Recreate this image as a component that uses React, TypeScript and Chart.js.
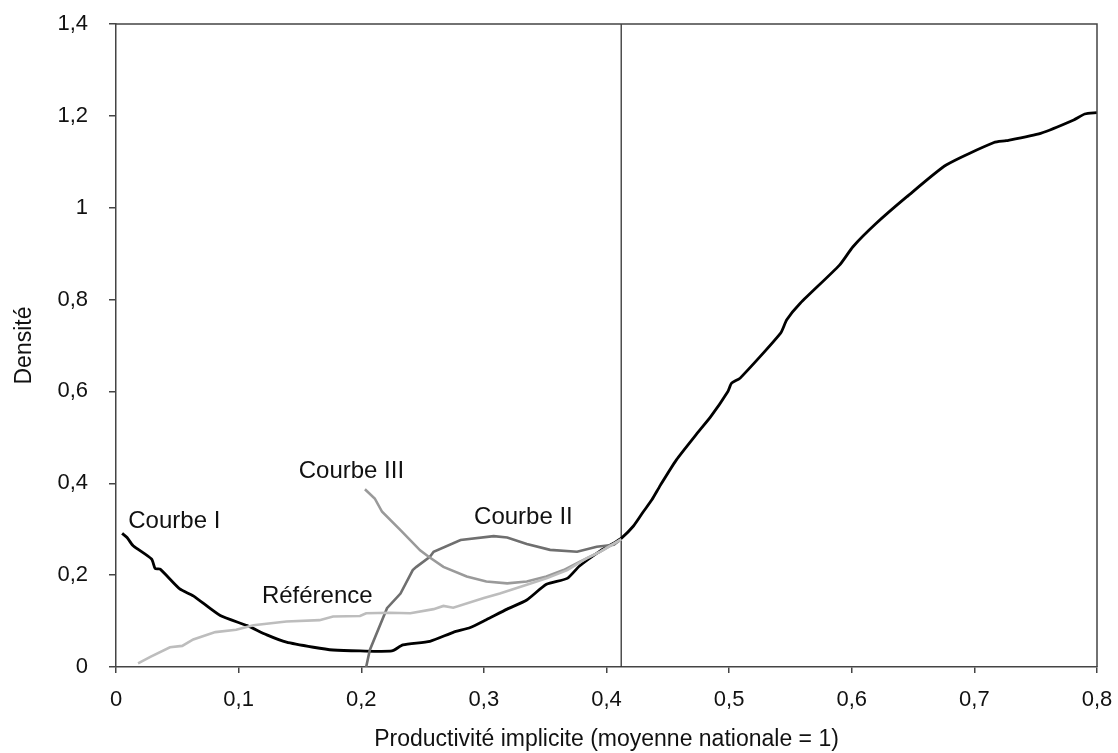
import React, { useEffect, useRef } from "react";
import { Chart, registerables } from "chart.js";

Chart.register(...registerables);

// ---- Data ----
const courbeIX = [0.005, 0.009, 0.014, 0.029, 0.032, 0.036, 0.052, 0.063, 0.085, 0.107, 0.123, 0.139, 0.161, 0.177, 0.199, 0.225, 0.234, 0.256, 0.275, 0.289, 0.302, 0.319, 0.335, 0.351, 0.368, 0.378, 0.395, 0.406, 0.412, 0.422, 0.430, 0.437, 0.444, 0.457, 0.474, 0.485, 0.499, 0.502, 0.509, 0.542, 0.547, 0.558, 0.590, 0.601, 0.620, 0.645, 0.677, 0.716, 0.726, 0.754, 0.781, 0.790, 0.800];
const courbeIY = [0.291, 0.282, 0.264, 0.235, 0.214, 0.213, 0.170, 0.155, 0.112, 0.090, 0.070, 0.054, 0.043, 0.037, 0.035, 0.035, 0.048, 0.056, 0.0755, 0.086, 0.103, 0.126, 0.146, 0.180, 0.193, 0.220, 0.253, 0.270, 0.280, 0.307, 0.338, 0.364, 0.396, 0.451, 0.509, 0.545, 0.600, 0.618, 0.629, 0.727, 0.756, 0.792, 0.875, 0.915, 0.966, 1.024, 1.093, 1.142, 1.146, 1.162, 1.191, 1.204, 1.207];

const courbeIIX = [0.204, 0.207, 0.221, 0.232, 0.242, 0.245, 0.256, 0.259, 0.281, 0.308, 0.319, 0.335, 0.354, 0.376, 0.392, 0.406, 0.412];
const courbeIIY = [0, 0.037, 0.128, 0.160, 0.211, 0.218, 0.240, 0.251, 0.2765, 0.285, 0.282, 0.268, 0.255, 0.251, 0.262, 0.266, 0.278];

const courbeIIIX = [0.203, 0.211, 0.217, 0.232, 0.248, 0.255, 0.267, 0.286, 0.302, 0.319, 0.335, 0.351, 0.365, 0.378, 0.395, 0.412];
const courbeIIIY = [0.387, 0.367, 0.338, 0.298, 0.254, 0.240, 0.218, 0.197, 0.186, 0.182, 0.186, 0.197, 0.211, 0.229, 0.251, 0.278];

const referenceX = [0.018, 0.028, 0.044, 0.054, 0.063, 0.081, 0.098, 0.112, 0.139, 0.166, 0.177, 0.199, 0.204, 0.223, 0.240, 0.259, 0.267, 0.275, 0.300, 0.313, 0.335, 0.351, 0.368, 0.384, 0.395, 0.412];
const referenceY = [0.008, 0.022, 0.043, 0.046, 0.060, 0.076, 0.081, 0.091, 0.099, 0.102, 0.110, 0.111, 0.117, 0.118, 0.117, 0.126, 0.133, 0.129, 0.150, 0.160, 0.179, 0.193, 0.211, 0.237, 0.251, 0.278];

const thresholdX = [0.412, 0.412];
const thresholdY = [0, 1.4];

const labelTexts = ["Courbe I", "Courbe III", "Courbe II", "Référence"];
const labelX = [0.010, 0.149, 0.292, 0.119];
const labelY = [0.302, 0.411, 0.311, 0.139];

const xTitle = "Productivité implicite (moyenne nationale = 1)";
const yTitle = "Densité";

const FONT = '"Liberation Sans", Arial, Helvetica, sans-serif';

const toPoints = (xs: number[], ys: number[]) => xs.map((x, i) => ({ x, y: ys[i] }));
const fmt = (v: number) => String(Math.round(v * 10) / 10).replace(".", ",");

const framePlugin = {
  id: "frame",
  afterDraw(chart: any) {
    const { ctx, chartArea } = chart;
    ctx.save();
    ctx.strokeStyle = "#444";
    ctx.lineWidth = 1.5;
    ctx.beginPath();
    ctx.moveTo(chartArea.left, chartArea.top);
    ctx.lineTo(chartArea.right, chartArea.top);
    ctx.lineTo(chartArea.right, chartArea.bottom);
    ctx.stroke();
    ctx.restore();
  },
};

const labelPlugin = {
  id: "curveLabels",
  afterDatasetsDraw(chart: any) {
    const { ctx, scales } = chart;
    ctx.save();
    ctx.font = `24px ${FONT}`;
    ctx.fillStyle = "#111";
    ctx.textAlign = "left";
    ctx.textBaseline = "alphabetic";
    labelTexts.forEach((t, i) => {
      ctx.fillText(t, scales.x.getPixelForValue(labelX[i]), scales.y.getPixelForValue(labelY[i]));
    });
    ctx.restore();
  },
};

const zeroPad = (s: any) => {
  s.paddingTop = 0;
  s.paddingBottom = 0;
  s.paddingLeft = 0;
  s.paddingRight = 0;
};

export default function App() {
  const ref = useRef<HTMLCanvasElement | null>(null);
  useEffect(() => {
    if (!ref.current) return;
    Chart.defaults.font.family = FONT;
    const chart = new Chart(ref.current, {
      type: "line",
      data: {
        datasets: [
          { label: "Référence", data: toPoints(referenceX, referenceY), borderColor: "#bdbdbd", borderWidth: 2.6, pointRadius: 0, tension: 0 },
          { label: "Courbe III", data: toPoints(courbeIIIX, courbeIIIY), borderColor: "#9a9a9a", borderWidth: 2.6, pointRadius: 0, tension: 0 },
          { label: "Courbe II", data: toPoints(courbeIIX, courbeIIY), borderColor: "#6f6f6f", borderWidth: 2.6, pointRadius: 0, tension: 0 },
          { label: "Courbe I", data: toPoints(courbeIX, courbeIY), borderColor: "#000", borderWidth: 2.8, pointRadius: 0, tension: 0.2 },
          { label: "seuil", data: toPoints(thresholdX, thresholdY), borderColor: "#333", borderWidth: 1.3, pointRadius: 0, tension: 0 },
        ],
      },
      options: {
        animation: false,
        responsive: true,
        maintainAspectRatio: false,
        layout: { padding: { left: 0, top: 24, right: 21, bottom: 0 } },
        plugins: { legend: { display: false }, tooltip: { enabled: false } },
        scales: {
          x: {
            type: "linear",
            min: 0,
            max: 0.8,
            afterFit: (s: any) => { s.height = 86; zeroPad(s); },
            grid: { drawOnChartArea: false, drawTicks: true, tickLength: 6, color: "#444", lineWidth: 1.5 },
            border: { display: true, color: "#444", width: 1.5 },
            ticks: { stepSize: 0.1, autoSkip: false, padding: 14, color: "#111", font: { size: 22 }, callback: (v: any) => fmt(Number(v)), maxRotation: 0 },
            title: { display: true, text: xTitle, color: "#111", font: { size: 23 }, padding: { top: 0, bottom: 0 } },
          },
          y: {
            type: "linear",
            min: 0,
            max: 1.4,
            afterFit: (s: any) => { s.width = 116; zeroPad(s); },
            grid: { drawOnChartArea: false, drawTicks: true, tickLength: 7, color: "#444", lineWidth: 1.5 },
            border: { display: true, color: "#444", width: 1.5 },
            ticks: { stepSize: 0.2, autoSkip: false, padding: 21, color: "#111", font: { size: 22 }, callback: (v: any) => fmt(Number(v)) },
            title: { display: true, text: yTitle, color: "#111", font: { size: 23 }, padding: { top: 11, bottom: 0 } },
          },
        },
      },
      plugins: [framePlugin, labelPlugin],
    });
    return () => chart.destroy();
  }, []);
  return (
    <div style={{ position: "absolute", left: 0, top: 0, width: 1118, height: 753, background: "#fff" }}>
      <canvas ref={ref} />
    </div>
  );
}
